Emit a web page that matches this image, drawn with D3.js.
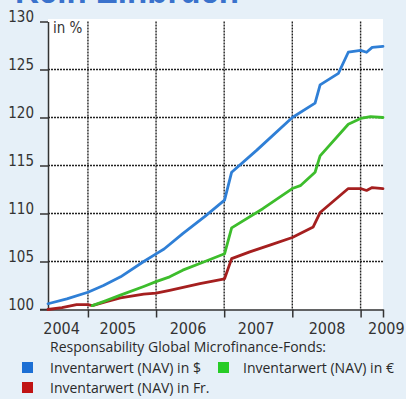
<!DOCTYPE html>
<html>
<head>
<meta charset="utf-8">
<script src="https://cdn.jsdelivr.net/npm/d3@7"></script>
<style>
  html, body { margin: 0; padding: 0; background: #e6f0f8; }
  svg { display: block; }
</style>
</head>
<body>
<svg id="chart" width="406" height="399"></svg>
<script>
// ---- data ----
const title = "Kein Einbruch";
const unitLabel = "in %";
const legendTitle = "Responsability Global Microfinance-Fonds:";
const seriesNames = ["Inventarwert (NAV) in $", "Inventarwert (NAV) in €", "Inventarwert (NAV) in Fr."];

const yTicks = [100, 105, 110, 115, 120, 125, 130];
const yearLabels = ["2004", "2005", "2006", "2007", "2008", "2009"];
const yearLabelDates = ["2004-08-13", "2005-06-10", "2006-06-21", "2007-06-21", "2008-07-05", "2009-05-19"];
const gridYears = ["2005-01-01", "2006-01-01", "2007-01-01", "2008-01-01", "2009-01-01"];
const domainDates = ["2004-06-01", "2009-05-01"];

const usdDates = ["2004-06-01","2004-09-10","2005-01-01","2005-03-25","2005-06-25","2005-10-27","2006-01-01","2006-02-13","2006-05-24","2006-09-20","2007-01-03","2007-02-10","2007-06-25","2008-01-01","2008-05-02","2008-05-29","2008-09-04","2008-10-27","2009-01-01","2009-02-02","2009-03-04","2009-05-01"];
const usdValues = [100.6,101.1,101.8,102.5,103.4,105.0,105.8,106.3,107.9,109.7,111.4,114.3,116.6,120.0,121.5,123.4,124.6,126.8,127.0,126.8,127.3,127.4];

const eurDates = ["2005-01-24","2005-04-05","2005-06-24","2005-10-27","2006-01-01","2006-03-15","2006-05-24","2006-09-20","2007-01-03","2007-02-10","2007-07-27","2008-01-01","2008-02-13","2008-05-02","2008-05-29","2008-10-27","2009-01-01","2009-02-23","2009-05-01"];
const eurValues = [100.4,100.9,101.5,102.4,102.9,103.4,104.1,105.0,105.8,108.5,110.5,112.6,112.9,114.3,116.0,119.3,119.9,120.1,120.0];

const chfDates = ["2004-06-01","2004-08-15","2004-11-01","2005-01-01","2005-01-24","2005-04-05","2005-06-24","2005-10-27","2006-01-01","2006-03-15","2006-08-24","2007-01-03","2007-02-10","2007-05-18","2007-09-03","2008-01-01","2008-04-22","2008-05-29","2008-10-27","2009-01-01","2009-02-02","2009-03-04","2009-05-01"];
const chfValues = [100.0,100.2,100.5,100.5,100.4,100.8,101.2,101.6,101.7,102.0,102.7,103.2,105.3,106.0,106.7,107.5,108.6,110.1,112.6,112.6,112.4,112.7,112.6];

const seriesColors = ["#2f7fd6", "#3dbd2c", "#a51f1f"];
const legendColors = ["#1c6fd4", "#27cc27", "#c01414"];

// ---- drawing ----
const parse = d3.timeParse("%Y-%m-%d");
const svg = d3.select("#chart");
const W = 406, H = 399;
const mLeft = 48, mRight = 383, mTop = 21.5, mBottom = 309.5;

const x = d3.scaleTime().domain(domainDates.map(parse)).range([mLeft, mRight]);
const y = d3.scaleLinear().domain([100, 130]).range([mBottom, mTop]);

svg.append("rect").attr("width", W).attr("height", H).attr("fill", "#e6f0f8");

// title, cut off at the top (as in the reference)
svg.append("text")
  .attr("x", 15).attr("y", 3)
  .attr("font-family", "Liberation Sans, Arial, sans-serif")
  .attr("font-weight", "bold").attr("font-size", 36)
  .attr("fill", "#3a72cc")
  .attr("textLength", 224).attr("lengthAdjust", "spacingAndGlyphs")
  .text(title);

// plot background
svg.append("rect").attr("x", mLeft).attr("y", 19).attr("width", mRight - mLeft).attr("height", mBottom - 19).attr("fill", "#ffffff");

const condensed = "'Liberation Sans Narrow', 'DejaVu Sans Condensed', 'Arial Narrow', sans-serif";

// horizontal gridlines
const gridG = svg.append("g");
gridG.selectAll("line.h").data(yTicks.filter(v => v > 100 && v < 130)).join("line")
  .attr("x1", mLeft).attr("x2", mRight)
  .attr("y1", d => y(d)).attr("y2", d => y(d))
  .attr("stroke", "#222").attr("stroke-width", 1.4).attr("stroke-dasharray", "2,1");

// vertical gridlines
gridG.selectAll("line.v").data(gridYears.map(parse)).join("line")
  .attr("x1", d => x(d)).attr("x2", d => x(d))
  .attr("y1", mTop).attr("y2", mBottom)
  .attr("stroke", "#222").attr("stroke-width", 1.4).attr("stroke-dasharray", "2,1");

// y axis
const yAxis = d3.axisLeft(y).tickValues(yTicks).tickSize(8).tickSizeOuter(0).tickFormat(d3.format("d"));
const gy = svg.append("g").attr("transform", `translate(${mLeft},0)`).call(yAxis);
gy.select(".domain").attr("stroke", "#333").attr("stroke-width", 1.5);
gy.selectAll(".tick line").attr("stroke", "#333").attr("stroke-width", 1.5);
gy.selectAll(".tick text")
  .attr("x", -14).attr("dy", "0.02em")
  .attr("font-family", condensed).attr("font-size", 15).attr("fill", "#333");

// x axis (ticks at year boundaries, labels in the middle of years)
const xAxis = d3.axisBottom(x).tickValues(gridYears.map(parse).concat([x.domain()[1]])).tickSize(8).tickSizeOuter(0).tickFormat("");
const gx = svg.append("g").attr("transform", `translate(0,${mBottom})`).call(xAxis);
gx.select(".domain").attr("stroke", "#333").attr("stroke-width", 1.5);
gx.selectAll(".tick line").attr("stroke", "#333").attr("stroke-width", 1.5);
gx.append("line").attr("x1", 40).attr("x2", mLeft).attr("y1", 0).attr("y2", 0).attr("stroke", "#333").attr("stroke-width", 1.5);

svg.append("g").selectAll("text").data(yearLabels).join("text")
  .attr("x", (d, i) => x(parse(yearLabelDates[i])))
  .attr("y", 334)
  .attr("text-anchor", "middle")
  .attr("font-family", condensed).attr("font-size", 16).attr("fill", "#333")
  .text(d => d);

// unit label
svg.append("text").attr("x", 53).attr("y", 33)
  .attr("font-family", condensed).attr("font-size", 15).attr("fill", "#333")
  .text(unitLabel);

// lines
const line = d3.line().x(d => x(d.date)).y(d => y(d.value));
const toPts = (ds, vs) => ds.map((d, i) => ({date: parse(d), value: vs[i]}));
const series = [
  {pts: toPts(usdDates, usdValues), color: seriesColors[0]},
  {pts: toPts(chfDates, chfValues), color: seriesColors[2]},
  {pts: toPts(eurDates, eurValues), color: seriesColors[1]}
];
svg.append("g").selectAll("path").data(series).join("path")
  .attr("d", d => line(d.pts))
  .attr("fill", "none")
  .attr("stroke", d => d.color)
  .attr("stroke-width", 2.8)
  .attr("stroke-linejoin", "round")
  .attr("stroke-linecap", "round");

// legend
const legFont = "'Open Sans', 'Noto Sans', sans-serif";
svg.append("text").attr("x", 50).attr("y", 352)
  .attr("font-family", legFont).attr("font-size", 14).attr("fill", "#2a2a2a")
  .text(legendTitle);

const legendItems = [
  {name: seriesNames[0], color: legendColors[0], sx: 22, tx: 50, y: 362},
  {name: seriesNames[1], color: legendColors[1], sx: 218, tx: 243, y: 362},
  {name: seriesNames[2], color: legendColors[2], sx: 22, tx: 50, y: 382}
];
const lg = svg.append("g").selectAll("g").data(legendItems).join("g");
lg.append("rect").attr("x", d => d.sx).attr("y", d => d.y).attr("width", 11).attr("height", 11).attr("fill", d => d.color);
lg.append("text").attr("x", d => d.tx).attr("y", d => d.y + 11)
  .attr("font-family", legFont).attr("font-size", 14).attr("fill", "#2a2a2a")
  .text(d => d.name);
</script>
</body>
</html>
